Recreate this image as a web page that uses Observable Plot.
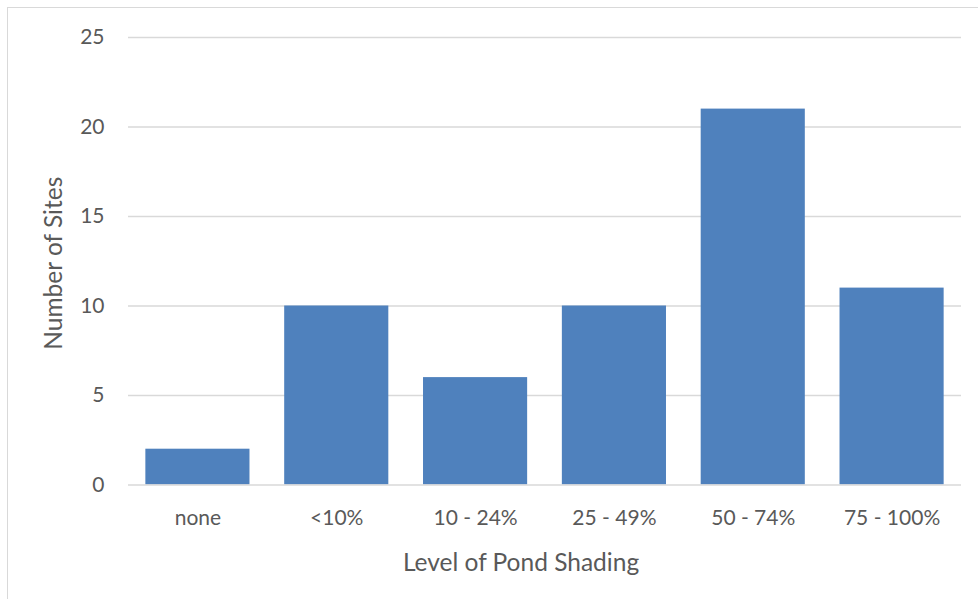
<!DOCTYPE html>
<html><head><meta charset="utf-8">
<script src="https://cdn.jsdelivr.net/npm/d3@7"></script>
<script src="https://cdn.jsdelivr.net/npm/@observablehq/plot@0.6"></script>
<style>
body{margin:0;background:#fff;overflow:hidden;}
#frame{position:absolute;left:7px;top:7px;width:1000px;height:700px;border-left:1.5px solid #d9d9d9;border-top:1.5px solid #d9d9d9;}
#chart{position:absolute;left:0;top:0;}
</style></head>
<body><div id="frame"></div><div id="chart"></div>
<script>
const categories = ["none", "<10%", "10 - 24%", "25 - 49%", "50 - 74%", "75 - 100%"];
const counts = [2, 10, 6, 10, 21, 11];
const yTicks = [0, 5, 10, 15, 20, 25];
const xTitle = "Level of Pond Shading";
const yTitle = "Number of Sites";

const data = categories.map((c, i) => ({cat: c, n: counts[i]}));
const font = "Lato, sans-serif";
const plot = Plot.plot({
  width: 978, height: 599,
  marginLeft: 128, marginRight: 17, marginTop: 37, marginBottom: 114.5,
  style: {fontFamily: font, fontSize: "21px", color: "#595959", background: "transparent"},
  x: {domain: categories, paddingInner: 0.25, paddingOuter: 0.125, round: false, label: null},
  y: {domain: [0, 25], label: null},
  marks: [
    Plot.ruleY(yTicks.filter(t => t > 0), {stroke: "#d9d9d9", strokeWidth: 1.5}),
    Plot.barY(data, {x: "cat", y: "n", fill: "#4f81bd"}),
    Plot.ruleY([0], {stroke: "#d9d9d9", strokeWidth: 1.5}),
    Plot.axisX({tickSize: 0, tickPadding: 25, fontSize: 21, label: null, fill: "#595959"}),
    Plot.axisY({ticks: yTicks, tickSize: 0, tickPadding: 24, fontSize: 21, label: null, fill: "#595959"}),
    Plot.text([xTitle], {frameAnchor: "bottom", dx: -24, dy: 86, fontSize: 24.5, fill: "#595959"}),
    Plot.text([yTitle], {frameAnchor: "left", dx: -74, dy: 2, rotate: -90, textAnchor: "middle", fontSize: 24.5, fill: "#595959"})
  ]
});
document.getElementById("chart").appendChild(plot);
</script></body></html>
